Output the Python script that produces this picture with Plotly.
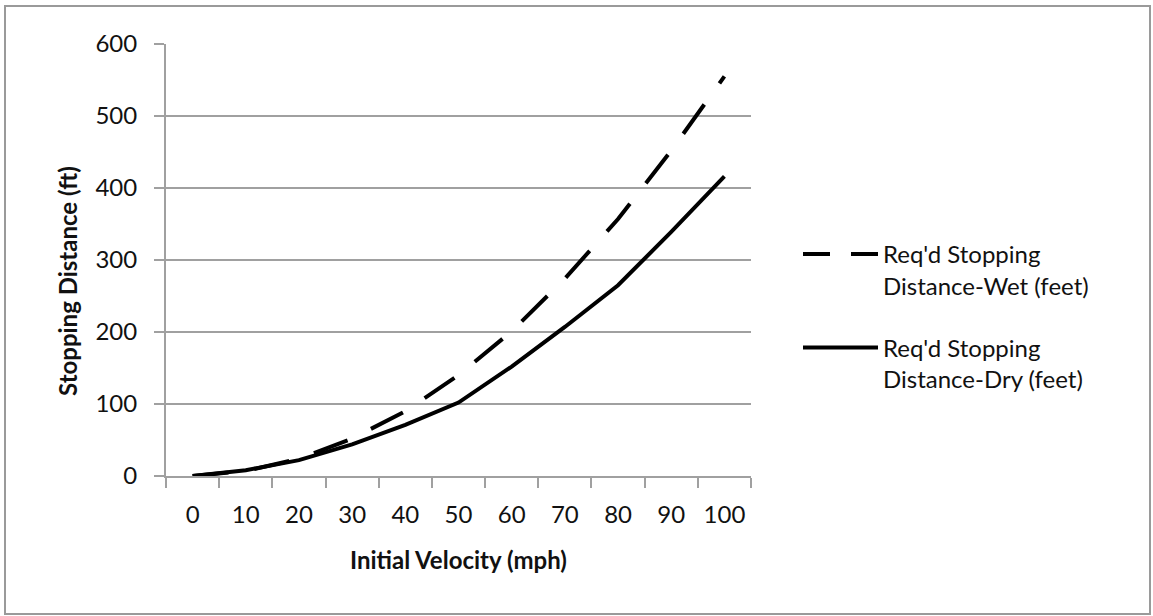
import plotly.graph_objects as go

# initial velocity categories (mph)
velocity = ["0", "10", "20", "30", "40", "50", "60", "70", "80", "90", "100"]

# required stopping distance in feet
wet_feet = [0, 7, 24, 52, 90, 140, 201, 274, 357, 452, 555]
dry_feet = [0, 8, 22, 44, 71, 102, 152, 207, 265, 339, 416]

y_ticks = [0, 100, 200, 300, 400, 500, 600]

WET_NAME = "Req'd Stopping<br>Distance-Wet (feet)"
DRY_NAME = "Req'd Stopping<br>Distance-Dry (feet)"

FONT = "Lato"
TEXT_COLOR = "#111111"
GRID_COLOR = "#a0a0a0"

W, H = 1153, 616
M_L, M_T = 166, 44
PLOT_W, PLOT_H = 585, 432
M_R = W - M_L - PLOT_W
M_B = H - M_T - PLOT_H


def px_x(px):
    return (px - M_L) / PLOT_W


def px_y(py):
    return (M_T + PLOT_H - py) / PLOT_H


fig = go.Figure()
fig.add_trace(go.Scatter(
    x=velocity,
    y=wet_feet,
    mode="lines",
    name=WET_NAME,
    showlegend=False,
    line=dict(color="black", width=4, dash="36px,26px"),
))
# legend entry for the wet series, dash scaled down like in the original legend
fig.add_trace(go.Scatter(
    x=[None],
    y=[None],
    mode="lines",
    name=WET_NAME,
    legendgroup="wet",
    line=dict(color="black", width=4, dash="27px,21px"),
))
fig.add_trace(go.Scatter(
    x=velocity,
    y=dry_feet,
    mode="lines",
    name=DRY_NAME,
    legendgroup="dry",
    line=dict(color="black", width=4),
))

fig.update_layout(
    width=W,
    height=H,
    margin=dict(l=M_L, r=M_R, t=M_T, b=M_B),
    paper_bgcolor="white",
    plot_bgcolor="white",
    font=dict(family=FONT, size=24, color=TEXT_COLOR),
    showlegend=True,
    legend=dict(
        x=px_x(798),
        y=px_y(232),
        xanchor="left",
        yanchor="top",
        valign="top",
        itemwidth=75,
        tracegroupgap=28,
        font=dict(family=FONT, size=24, color=TEXT_COLOR),
        bgcolor="rgba(0,0,0,0)",
    ),
    xaxis=dict(
        type="category",
        range=[-0.5, len(velocity) - 0.5],
        tickson="boundaries",
        ticks="outside",
        ticklen=10,
        tickwidth=2,
        tickcolor=GRID_COLOR,
        showline=True,
        linecolor=GRID_COLOR,
        linewidth=2,
        showgrid=False,
        ticklabelstandoff=16,
        fixedrange=True,
    ),
    yaxis=dict(
        range=[0, 600],
        tickvals=y_ticks,
        ticks="outside",
        ticklen=10,
        tickwidth=2,
        tickcolor=GRID_COLOR,
        showline=True,
        linecolor=GRID_COLOR,
        linewidth=2,
        showgrid=True,
        gridcolor=GRID_COLOR,
        gridwidth=2,
        zeroline=False,
        ticklabelstandoff=12,
        fixedrange=True,
    ),
    annotations=[
        dict(
            text="<b>Initial Velocity (mph)</b>",
            xref="paper", yref="paper",
            x=0.5, y=px_y(559),
            xanchor="center", yanchor="middle",
            showarrow=False,
            font=dict(family=FONT, size=24, color=TEXT_COLOR),
        ),
        dict(
            text="<b>Stopping Distance (ft)</b>",
            xref="paper", yref="paper",
            x=px_x(67), y=px_y(281),
            xanchor="center", yanchor="middle",
            textangle=-90,
            showarrow=False,
            font=dict(family=FONT, size=24, color=TEXT_COLOR),
        ),
    ],
    shapes=[
        # grey frame around the whole chart
        dict(
            type="rect",
            xref="paper", yref="paper",
            x0=px_x(5), x1=px_x(1150),
            y0=px_y(614), y1=px_y(6),
            line=dict(color="#9a9a9a", width=2),
            fillcolor="rgba(0,0,0,0)",
            layer="below",
        ),
    ],
)

# drop the default body margin so the figure sits at the window's top-left
fig.write_html(
    "out.html",
    config=dict(displayModeBar=False),
    post_script="document.body.style.margin = '0';",
)
